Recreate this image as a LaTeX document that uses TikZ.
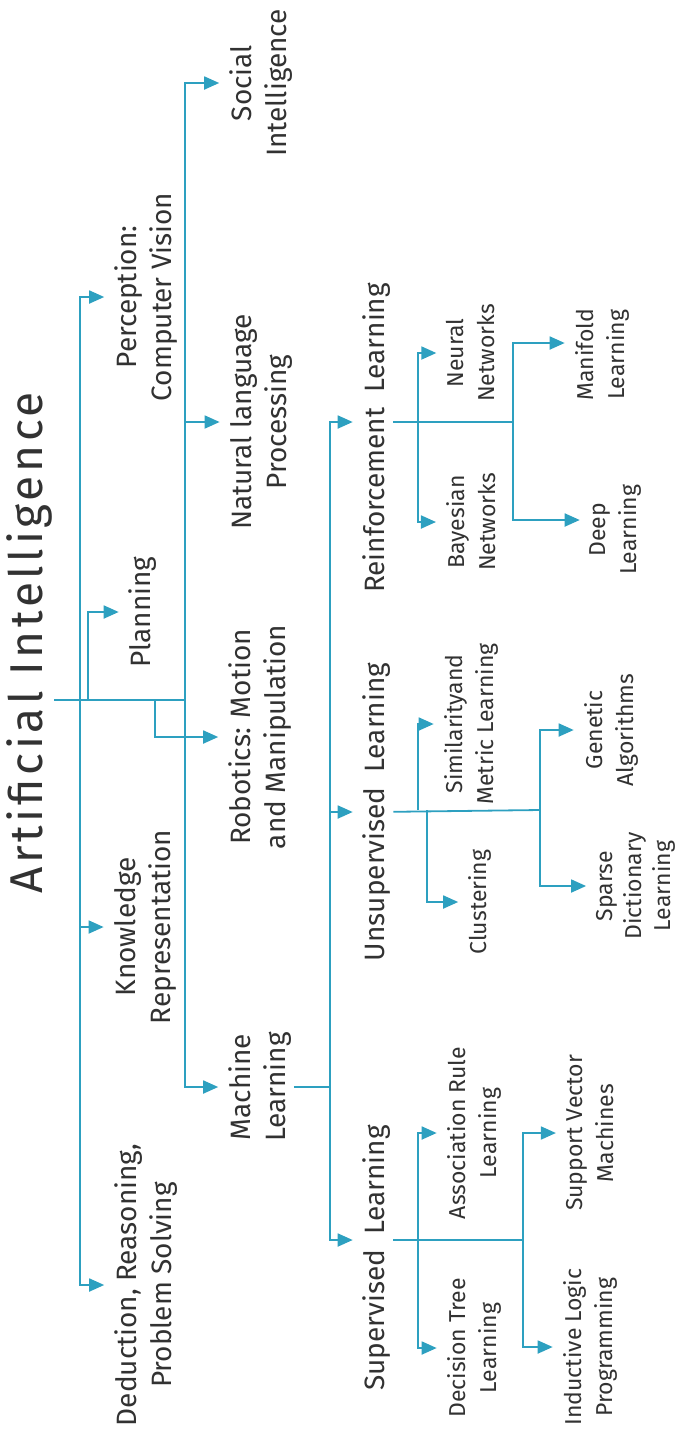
\documentclass[tikz,border=0pt]{standalone}
\usepackage{fontspec}
\setmainfont{Fira Sans}
\newfontfamily\titlefont{Fira Sans}[LetterSpace=8]
\usetikzlibrary{arrows.meta}
\definecolor{aiblue}{RGB}{45,160,192}
\definecolor{txt}{RGB}{50,50,50}
\begin{document}
\begin{tikzpicture}[x=0.5pt,y=-0.5pt,
 line/.style={draw=aiblue,line width=0.9pt},
 arr/.style={line,-{Triangle[length=7.5pt,width=6.5pt]},shorten >=4pt},
 lab/.style={rotate=90,text=txt,align=center,inner sep=1pt},
 l1/.style={lab,font=\titlefont\fontsize{23}{27}\selectfont},
 l2/.style={lab,font=\fontsize{14}{17.5}\selectfont},
 l3/.style={lab,font=\fontsize{14}{17}\selectfont},
 l4/.style={lab,font=\fontsize{11.5}{15.5}\selectfont},
]
\useasboundingbox (0,0) rectangle (679,1441);
% nodes
\node[l1] (ai) at (29,643) {Artificial Intelligence};
\node[l2] (perc) at (146,297) {Perception:\\Computer Vision};
\node[l2] (soc) at (261,83) {Social\\Intelligence};
\node[l2] (nlp) at (261,422) {Natural language\\Processing};
\node[l2] (plan) at (143,612) {Planning};
\node[l2] (rob) at (260,737) {Robotics: Motion\\and Manipulation};
\node[l2] (know) at (145,927) {Knowledge\\Representation};
\node[l2] (ml) at (260,1087) {Machine\\Learning};
\node[l2] (ded) at (146,1285) {Deduction, Reasoning,\\Problem Solving};
\node[l3] (rl) at (377,438) {Reinforcement\ \ Learning};
\node[l3] (ul) at (377,812) {Unsupervised\ \ Learning};
\node[l3] (sl) at (377,1258) {Supervised\ \ Learning};
\node[l4] (nn) at (471,353) {Neural\\Networks};
\node[l4] (bn) at (471,522) {Bayesian\\Networks};
\node[l4] (mf) at (602,355) {Manifold\\Learning};
\node[l4] (dl) at (616,530) {Deep\\Learning};
\node[l4] (sim) at (471,724) {Similarityand\\Metric Learning};
\node[l4] (clu) at (480,902) {Clustering};
\node[l4,font=\fontsize{11.5}{14.5}\selectfont] (spd) at (636,886) {Sparse\\Dictionary\\Learning};
\node[l4] (gen) at (611,730) {Genetic\\Algorithms};
\node[l4] (arl) at (474,1133) {Association Rule\\Learning};
\node[l4] (dtl) at (474,1348) {Decision Tree\\Learning};
\node[l4] (svm) at (590,1133) {Support Vector\\Machines};
\node[l4] (ilp) at (590,1347) {Inductive Logic\\Programming};
% junctions
\coordinate (rA) at (80,700);
\coordinate (rP) at (88,700);
\coordinate (rR) at (155,700);
\coordinate (rD) at (185,700);
\coordinate (mlj) at (330,1087);
\coordinate (rlA) at (418,422);
\coordinate (rlB) at (513,422);
\coordinate (ulA) at (418,810);
\coordinate (ulC) at (427,810);
\coordinate (ulB) at (540,810);
\coordinate (slA) at (418,1240);
\coordinate (slB) at (523,1240);
% root
\draw[line] (ai.south |- rD) -- (rD);
\draw[arr] (rA) |- (perc);
\draw[arr] (rA) |- (know);
\draw[arr] (rA) |- (ded);
\draw[arr] (rP) |- (plan);
\draw[arr] (rR) |- (rob);
\draw[arr] (rD) |- (soc);
\draw[arr] (rD) |- (nlp);
\draw[arr] (rD) |- (ml);
% machine learning
\draw[line] (ml) -- (mlj);
\draw[arr] (mlj) |- ([yshift=8pt]rl.north);
\draw[arr] (mlj) |- (ul);
\draw[arr] (mlj) |- ([yshift=9pt]sl.north);
% reinforcement
\draw[line] (rl.south |- rlB) -- (rlB);
\draw[arr] (rlA) |- (nn);
\draw[arr] (rlA) |- (bn);
\draw[arr] (rlB) |- ([yshift=6pt]mf.north);
\draw[arr] (rlB) |- ([yshift=5pt]dl.north);
% unsupervised
\draw[line] (ul) -- (ulB);
\draw[arr] (ulA) |- (sim);
\draw[arr] (ulC) |- (clu);
\draw[arr] (ulB) |- (gen);
\draw[arr] (ulB) |- (spd);
% supervised
\draw[line] (sl.south |- slB) -- (slB);
\draw[arr] (slA) |- (arl);
\draw[arr] (slA) |- (dtl);
\draw[arr] (slB) |- (svm);
\draw[arr] (slB) |- (ilp);
\end{tikzpicture}
\end{document}
